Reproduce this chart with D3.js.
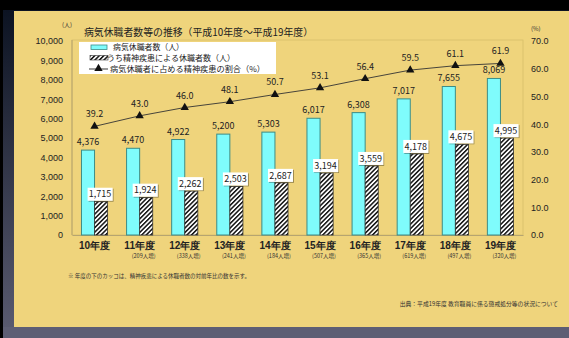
<!DOCTYPE html>
<html><head><meta charset="utf-8">
<script src="https://cdn.jsdelivr.net/npm/d3@7"></script>
<style>
html,body{margin:0;padding:0;background:#000;}
svg{display:block;font-family:"Noto Sans CJK JP","Noto Sans",sans-serif;}
</style></head>
<body>
<script>
const categories = ["10年度","11年度","12年度","13年度","14年度","15年度","16年度","17年度","18年度","19年度"];
const increases = ["","(209人増)","(338人増)","(241人増)","(184人増)","(507人増)","(365人増)","(619人増)","(497人増)","(320人増)"];
const sickLeave = [4376,4470,4922,5200,5303,6017,6308,7017,7655,8069];
const mentalLeave = [1715,1924,2262,2503,2687,3194,3559,4178,4675,4995];
const mentalRatio = [39.2,43.0,46.0,48.1,50.7,53.1,56.4,59.5,61.1,61.9];
const leftTicks = [0,1000,2000,3000,4000,5000,6000,7000,8000,9000,10000];
const rightTicks = [0,10,20,30,40,50,60,70];
const title = "病気休職者数等の推移（平成10年度～平成19年度）";
const legendLabels = ["病気休職者数（人）","うち精神疾患による休職者数（人）","病気休職者に占める精神疾患の割合（%）"];
const footnote = "※  年度の下のカッコは、精神疾患による休職者数の対前年比の数を示す。";
const source = "出典：平成19年度  教育職員に係る懲戒処分等の状況について";

const W = 569, H = 338;
const svg = d3.select("body").append("svg").attr("width", W).attr("height", H);
const defs = svg.append("defs");
const lg = defs.append("linearGradient").attr("id","side").attr("x1",0).attr("y1",0).attr("x2",0).attr("y2",1);
lg.append("stop").attr("offset","0%").attr("stop-color","#0c1322");
lg.append("stop").attr("offset","100%").attr("stop-color","#5d5e74");
const pat = defs.append("pattern").attr("id","hatch").attr("patternUnits","userSpaceOnUse")
  .attr("width",3.2).attr("height",3.2).attr("patternTransform","rotate(45)");
pat.append("rect").attr("width",3.2).attr("height",3.2).attr("fill","#fff");
pat.append("rect").attr("x",0).attr("width",1.5).attr("height",3.2).attr("fill","#111");
const sh = defs.append("filter").attr("id","sh").attr("x","-20%").attr("y","-20%").attr("width","150%").attr("height","160%");
sh.append("feDropShadow").attr("dx",1).attr("dy",1).attr("stdDeviation",0.6).attr("flood-color","#000").attr("flood-opacity",0.35);

// background
svg.append("rect").attr("width",W).attr("height",H).attr("fill","#000");
svg.append("rect").attr("x",3).attr("y",10).attr("width",W).attr("height",H).attr("fill","url(#side)");
svg.append("rect").attr("x",0).attr("y",327).attr("width",W).attr("height",11).attr("fill","#5d5e74");
svg.append("rect").attr("x",0).attr("y",10).attr("width",3).attr("height",328).attr("fill","#000");
svg.append("rect").attr("x",14).attr("y",11).attr("width",W-14).attr("height",316).attr("fill","#efd47c");

const m = {l:72, r:523, t:41, b:235};
const x = d3.scaleBand().domain(categories).range([m.l, m.r]).paddingInner(0.42).paddingOuter(0.21);
const sub = d3.scaleBand().domain(["a","b"]).range([0, x.bandwidth()]);
const y = d3.scaleLinear().domain([0,10000]).range([m.b, m.t]);
const y2 = d3.scaleLinear().domain([0,70]).range([m.b, m.t]);

// plot frame
svg.append("rect").attr("x",m.l).attr("y",m.t-1).attr("width",m.r-m.l).attr("height",m.b-m.t+1)
  .attr("fill","none").attr("stroke","#d8bf6a").attr("stroke-width",0.8);

// axes
const ax = svg.append("g").attr("transform",`translate(${m.l-9},0)`)
  .call(d3.axisLeft(y).tickValues(leftTicks).tickSize(0).tickPadding(0).tickFormat(d3.format(",")));
ax.select(".domain").remove();
ax.selectAll("text").attr("font-size",9).attr("fill","#222");
svg.append("line").attr("x1",m.l).attr("x2",m.l).attr("y1",m.t-1).attr("y2",m.b).attr("stroke","#a99a70").attr("stroke-width",0.8);

const ax2 = svg.append("g").attr("transform",`translate(${m.r+8},0)`)
  .call(d3.axisRight(y2).tickValues(rightTicks).tickSize(0).tickPadding(0).tickFormat(d3.format(".1f")));
ax2.select(".domain").remove();
ax2.selectAll("text").attr("font-size",9).attr("fill","#222");

const ab = svg.append("g").attr("transform",`translate(0,${m.b})`)
  .call(d3.axisBottom(x).tickSize(0).tickPadding(7));
ab.select(".domain").attr("stroke","#a99a70").attr("stroke-width",0.8);
ab.selectAll("text").attr("font-size",10).attr("fill","#222").attr("font-weight","bold");
svg.append("g").selectAll("text").data(categories).join("text")
  .attr("x",(d)=>x(d)+x.bandwidth()/2+4).attr("y",m.b+23).attr("text-anchor","middle")
  .attr("font-size",5.5).attr("fill","#333").text((d,i)=>increases[i]);

svg.append("text").attr("x",62).attr("y",27).attr("font-size",6).attr("fill","#333").text("(人)");
svg.append("text").attr("x",531).attr("y",31).attr("font-size",6).attr("fill","#333").text("(%)");

// bars
const g = svg.append("g");
g.selectAll("rect.sick").data(sickLeave).join("rect").attr("class","sick")
  .attr("x",(d,i)=>x(categories[i])+sub("a")).attr("width",sub.bandwidth())
  .attr("y",d=>y(d)).attr("height",d=>m.b-y(d))
  .attr("fill","#7ffcfc").attr("stroke","#3c8c86").attr("stroke-width",1);
g.selectAll("rect.mental").data(mentalLeave).join("rect").attr("class","mental")
  .attr("x",(d,i)=>x(categories[i])+sub("b")).attr("width",sub.bandwidth())
  .attr("y",d=>y(d)).attr("height",d=>m.b-y(d))
  .attr("fill","url(#hatch)").attr("stroke","#333").attr("stroke-width",0.8);

g.selectAll("text.sv").data(sickLeave).join("text").attr("class","sv")
  .attr("x",(d,i)=>x(categories[i])+sub("a")+sub.bandwidth()/2).attr("y",d=>y(d)-5)
  .attr("text-anchor","middle").attr("font-size",9).attr("fill","#222").text(d=>d3.format(",")(d));

const lbl = g.selectAll("g.ml").data(mentalLeave).join("g").attr("class","ml")
  .attr("transform",(d,i)=>`translate(${x(categories[i])+sub("b")+sub.bandwidth()/2-1},${y(d)-7.5})`);
lbl.append("rect").attr("x",-12.5).attr("y",-6.5).attr("width",25).attr("height",13).attr("fill","#fff").attr("filter","url(#sh)");
lbl.append("text").attr("text-anchor","middle").attr("dy","0.35em").attr("font-size",9).attr("fill","#222")
  .text(d=>d3.format(",")(d));

// line
const cx = (i)=>x(categories[i])+x.bandwidth()/2;
const line = d3.line().x((d,i)=>cx(i)).y(d=>y2(d));
svg.append("path").datum(mentalRatio).attr("d",line).attr("fill","none").attr("stroke","#333").attr("stroke-width",0.9);
const tri = d3.symbol().type(d3.symbolTriangle).size(30);
svg.append("g").selectAll("path").data(mentalRatio).join("path")
  .attr("d",tri).attr("transform",(d,i)=>`translate(${cx(i)},${y2(d)})`).attr("fill","#111");
svg.append("g").selectAll("text").data(mentalRatio).join("text")
  .attr("x",(d,i)=>cx(i)).attr("y",d=>y2(d)-9).attr("text-anchor","middle")
  .attr("font-size",9).attr("fill","#222").text(d=>d.toFixed(1));

// title
svg.append("text").attr("x",84).attr("y",36).attr("font-size",10).attr("fill","#222")
  .attr("textLength",229).attr("lengthAdjust","spacingAndGlyphs").text(title);

// legend
const L = svg.append("g");
L.append("rect").attr("x",79).attr("y",42).attr("width",197).attr("height",32).attr("fill","#fff");
L.append("rect").attr("x",91).attr("y",45).attr("width",16).attr("height",4.5).attr("fill","#7ffcfc").attr("stroke","#3c8c86").attr("stroke-width",0.8);
L.append("rect").attr("x",90).attr("y",55.5).attr("width",18).attr("height",4.5).attr("fill","url(#hatch)").attr("stroke","#333").attr("stroke-width",0.6);
L.append("line").attr("x1",89).attr("x2",108).attr("y1",69).attr("y2",69).attr("stroke","#222").attr("stroke-width",0.9);
L.append("path").attr("d",tri).attr("transform","translate(98.5,68.5)").attr("fill","#111");
const legX = [113,107,110], legW = [71,128,155];
L.selectAll("text").data(legendLabels).join("text")
  .attr("x",(d,i)=>legX[i]).attr("y",(d,i)=>47.5+i*11).attr("dy","0.35em")
  .attr("font-size",8).attr("fill","#222")
  .attr("textLength",(d,i)=>legW[i]).attr("lengthAdjust","spacingAndGlyphs").text(d=>d);

svg.append("text").attr("x",68).attr("y",278).attr("font-size",5.5).attr("fill","#333").text(footnote);
svg.append("text").attr("x",558).attr("y",306).attr("text-anchor","end").attr("font-size",5.8).attr("fill","#333").text(source);
</script>
</body></html>
